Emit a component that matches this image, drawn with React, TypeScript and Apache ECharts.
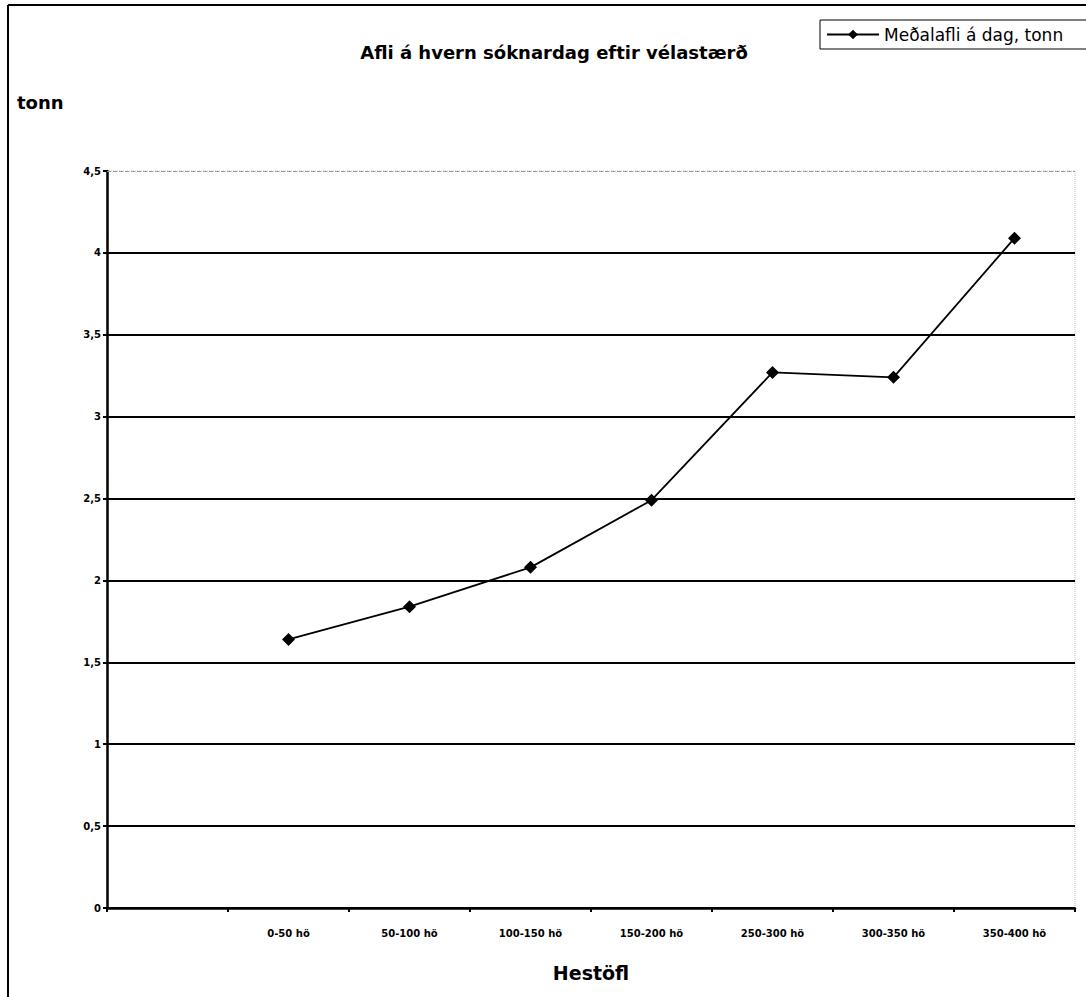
import React, { useEffect, useRef } from "react";
import * as echarts from "echarts";

const categories = ["", "0-50 hö", "50-100 hö", "100-150 hö", "150-200 hö", "250-300 hö", "300-350 hö", "350-400 hö"];
const meanCatch: (number | null)[] = [null, 1.64, 1.84, 2.08, 2.49, 3.27, 3.24, 4.09];
const seriesName = "Meðalafli á dag, tonn";
const titleText = "Afli á hvern sóknardag eftir vélastærð";
const yAxisName = "tonn";
const xAxisName = "Hestöfl";

export default function App() {
  const ref = useRef<HTMLDivElement>(null);
  useEffect(() => {
    if (!ref.current) return;
    const chart = echarts.init(ref.current, undefined, { renderer: "svg" });
    const font = "DejaVu Sans";
    chart.setOption({
      animation: false,
      backgroundColor: "#fff",
      textStyle: { fontFamily: font },
      title: {
        text: titleText,
        left: 549,
        top: 38,
        textAlign: "center",
        textStyle: { fontFamily: font, fontSize: 18, fontWeight: "bold", color: "#000" },
      },
      legend: {
        left: 820,
        top: 20,
        orient: "horizontal",
        borderColor: "#000",
        borderWidth: 1,
        borderRadius: 0,
        padding: [6, 40, 6, 6],
        itemWidth: 52,
        itemHeight: 12,
        itemGap: 10,
        textStyle: { fontFamily: font, fontSize: 17, color: "#000" },
        data: [{ name: seriesName }],
      },
      grid: {
        left: 107,
        right: 11,
        top: 171,
        bottom: 89,
        show: true,
        borderColor: "#bbb",
        borderWidth: 1,
        borderType: "dotted",
      },
      xAxis: {
        type: "category",
        data: categories,
        boundaryGap: true,
        name: xAxisName,
        nameLocation: "middle",
        nameGap: 55,
        nameTextStyle: { fontFamily: font, fontSize: 19, fontWeight: "bold", color: "#000" },
        axisLine: { lineStyle: { color: "#000", width: 2.5 } },
        axisTick: { show: true, interval: 0, length: 4, lineStyle: { color: "#000", width: 2 } },
        axisLabel: { interval: 0, fontFamily: font, fontSize: 10, fontWeight: "bold", color: "#000", margin: 20 },
        splitLine: { show: false },
      },
      yAxis: {
        type: "value",
        min: 0,
        max: 4.5,
        interval: 0.5,
        axisLine: { show: true, lineStyle: { color: "#000", width: 2.5 } },
        axisTick: { show: true, length: 4, lineStyle: { color: "#000", width: 2 } },
        axisLabel: {
          fontFamily: font,
          fontSize: 10,
          fontWeight: "bold",
          color: "#000",
          margin: 6,
          formatter: (v: number) => String(v).replace(".", ","),
        },
        splitLine: { show: true, showMaxLine: false, lineStyle: { color: "#000", width: 2 } },
      },
      graphic: [
        { type: "line", shape: { x1: 8, y1: 5, x2: 1086, y2: 5 }, style: { stroke: "#000", lineWidth: 2 } },
        { type: "line", shape: { x1: 8, y1: 5, x2: 8, y2: 997 }, style: { stroke: "#000", lineWidth: 2 } },
        {
          type: "text",
          left: 17,
          top: 93,
          style: { text: yAxisName, fontFamily: font, fontSize: 18, fontWeight: "bold", fill: "#000" },
        },
      ],
      series: [
        {
          name: seriesName,
          type: "line",
          data: meanCatch,
          symbol: "diamond",
          symbolSize: 13,
          connectNulls: true,
          itemStyle: { color: "#000" },
          lineStyle: { color: "#000", width: 1.8 },
          markLine: {
            silent: true,
            symbol: "none",
            label: { show: false },
            lineStyle: { color: "#999", type: "dashed", width: 1 },
            data: [{ yAxis: 4.5 }],
          },
        },
      ],
    });
    return () => chart.dispose();
  }, []);
  return <div ref={ref} style={{ position: "absolute", left: 0, top: 0, width: 1086, height: 997 }} />;
}
